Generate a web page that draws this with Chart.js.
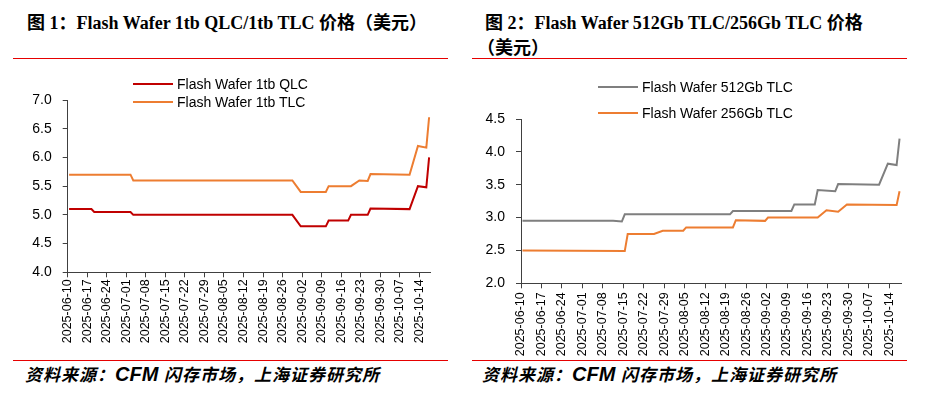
<!DOCTYPE html>
<html>
<head>
<meta charset="utf-8">
<script src="https://cdn.jsdelivr.net/npm/chart.js@4.4.1/dist/chart.umd.min.js"></script>
<style>
  html, body { margin: 0; padding: 0; background: #fff; }
  body { width: 928px; height: 397px; position: relative; overflow: hidden; font-family: "Liberation Sans", Arial, sans-serif; color: #000; }
  .title { position: absolute; font-family: "Liberation Serif", "Noto Sans CJK SC", serif; font-weight: bold; font-size: 18px; line-height: 22px; white-space: nowrap; }
  .rule { position: absolute; height: 1px; background: #e60000; }
  .src { position: absolute; font-family: "Liberation Sans", "Noto Sans CJK SC", sans-serif; font-weight: bold; font-style: italic; font-size: 17px; line-height: 20px; letter-spacing: 1px; white-space: nowrap; }
  .src b { font-size: 20px; letter-spacing: 0; }
  .lg { position: absolute; font-size: 14px; line-height: 16px; white-space: nowrap; display: flex; align-items: center; }
  .lg .sw { display: inline-block; width: 40px; height: 2px; margin-right: 4px; }
  canvas { position: absolute; }
</style>
</head>
<body>

<div class="title" style="left:27px; top:12px;">图 1：Flash Wafer 1tb QLC/1tb TLC 价格（美元）</div>
<div class="rule" style="left:13px; top:58px; width:435px;"></div>
<canvas id="c1" width="460" height="300" style="left:0; top:60px;"></canvas>
<div id="lg1"></div>
<div class="rule" style="left:13px; top:360px; width:435px;"></div>
<div class="src" style="left:25px; top:364px;">资料来源：<b>CFM</b> 闪存市场，上海证券研究所</div>

<div class="title" style="left:485px; top:12px;">图 2：Flash Wafer 512Gb TLC/256Gb TLC 价格</div>
<div class="title" style="left:477px; top:37px;">（美元）</div>
<div class="rule" style="left:472px; top:58px; width:435px;"></div>
<canvas id="c2" width="463" height="300" style="left:465px; top:60px;"></canvas>
<div id="lg2"></div>
<div class="rule" style="left:472px; top:360px; width:435px;"></div>
<div class="src" style="left:482px; top:364px;">资料来源：<b>CFM</b> 闪存市场，上海证券研究所</div>

<script>
  // weekly date labels on the x axis
  const START_DATE = '2025-06-10';
  const END_DATE = '2025-10-18';
  const X_TICK_LABELS = [
    '2025-06-10', '2025-06-17', '2025-06-24', '2025-07-01', '2025-07-08',
    '2025-07-15', '2025-07-22', '2025-07-29', '2025-08-05', '2025-08-12',
    '2025-08-19', '2025-08-26', '2025-09-02', '2025-09-09', '2025-09-16',
    '2025-09-23', '2025-09-30', '2025-10-07', '2025-10-14',
  ];

  // fig 1: prices where they change (USD)
  const QLC_NAME = 'Flash Wafer 1tb QLC';
  const QLC_DATES = ['2025-06-10', '2025-06-18', '2025-06-19', '2025-07-02', '2025-07-03', '2025-08-29', '2025-09-01',
    '2025-09-10', '2025-09-11', '2025-09-18', '2025-09-19', '2025-09-25', '2025-09-26', '2025-10-10',
    '2025-10-13', '2025-10-16', '2025-10-17'];
  const QLC_VALUES = [5.1, 5.1, 5.05, 5.05, 5.0, 5.0, 4.8, 4.8, 4.9, 4.9, 5.0, 5.0, 5.11, 5.1, 5.5, 5.48, 6.0];

  const TLC_NAME = 'Flash Wafer 1tb TLC';
  const TLC_DATES = ['2025-06-10', '2025-07-02', '2025-07-03', '2025-08-29', '2025-09-01', '2025-09-10', '2025-09-11',
    '2025-09-19', '2025-09-22', '2025-09-25', '2025-09-26', '2025-10-10', '2025-10-13', '2025-10-16', '2025-10-17'];
  const TLC_VALUES = [5.7, 5.7, 5.6, 5.6, 5.4, 5.4, 5.5, 5.5, 5.6, 5.59, 5.71, 5.7, 6.2, 6.17, 6.7];

  // fig 2
  const GB512_NAME = 'Flash Wafer 512Gb TLC';
  const GB512_DATES = ['2025-06-10', '2025-07-11', '2025-07-14', '2025-07-15', '2025-08-20', '2025-08-21', '2025-09-10',
    '2025-09-11', '2025-09-18', '2025-09-19', '2025-09-25', '2025-09-26', '2025-10-10', '2025-10-13',
    '2025-10-16', '2025-10-17'];
  const GB512_VALUES = [2.95, 2.95, 2.94, 3.05, 3.05, 3.1, 3.1, 3.2, 3.2, 3.42, 3.4, 3.51, 3.5, 3.82, 3.8, 4.2];

  const GB256_NAME = 'Flash Wafer 256Gb TLC';
  const GB256_DATES = ['2025-06-10', '2025-07-15', '2025-07-16', '2025-07-25', '2025-07-28', '2025-08-04', '2025-08-05',
    '2025-08-21', '2025-08-22', '2025-09-01', '2025-09-02', '2025-09-19', '2025-09-22', '2025-09-26',
    '2025-09-29', '2025-10-16', '2025-10-17'];
  const GB256_VALUES = [2.5, 2.49, 2.75, 2.75, 2.8, 2.8, 2.85, 2.85, 2.96, 2.95, 3.0, 3.0, 3.11, 3.09, 3.2, 3.19, 3.4];

  const RED = '#c00000';
  const ORANGE = '#ed7d31';
  const GRAY = '#7f7f7f';
  const AXIS_COLOR = '#404040';

  function dayIndex(s) {
    return Math.round((Date.parse(s) - Date.parse(START_DATE)) / 86400000);
  }

  // excel date axis puts each day in the middle of its slot
  function points(dates, values) {
    return dates.map(function (d, i) { return { x: dayIndex(d) + 0.5, y: values[i] }; });
  }

  function series(name, color, dates, values) {
    return {
      label: name,
      data: points(dates, values),
      borderColor: color,
      backgroundColor: color,
      borderWidth: 2,
      pointRadius: 0,
      tension: 0,
      fill: false,
    };
  }

  function buildLegend(el, items, left, tops) {
    el.innerHTML = items.map(function (it, i) {
      return '<div class="lg" style="left:' + left + 'px;top:' + (tops[i] - 8) + 'px;">' +
        '<span class="sw" style="background:' + it.color + '"></span>' + it.label + '</div>';
    }).join('');
  }

  function makeChart(canvas, datasets, yMin, yMax, box) {
    return new Chart(canvas, {
      type: 'line',
      data: { datasets: datasets },
      options: {
        responsive: false,
        animation: false,
        events: [],
        layout: { padding: { top: box.top, right: box.right, left: 0, bottom: 0 } },
        plugins: { legend: { display: false }, tooltip: { enabled: false } },
        scales: {
          x: {
            type: 'linear',
            min: 0,
            max: dayIndex(END_DATE),
            afterFit: function (s) { s.height = box.xh; },
            afterBuildTicks: function (s) {
              s.ticks = X_TICK_LABELS.map(function (l) { return { value: dayIndex(l) }; });
            },
            grid: { drawOnChartArea: false, tickLength: 5, color: AXIS_COLOR },
            border: { color: AXIS_COLOR, width: 1 },
            ticks: {
              autoSkip: false,
              minRotation: 90,
              maxRotation: 90,
              padding: box.xpad,
              color: '#000',
              font: { family: "'Liberation Sans', Arial, sans-serif", size: 12.5 },
              callback: function (v, i) { return X_TICK_LABELS[i]; },
            },
          },
          y: {
            min: yMin,
            max: yMax,
            afterFit: function (s) { s.width = box.yw; },
            grid: { drawOnChartArea: false, tickLength: 5, color: AXIS_COLOR },
            border: { color: AXIS_COLOR, width: 1 },
            ticks: {
              stepSize: 0.5,
              padding: 11,
              color: '#000',
              font: { family: "'Liberation Sans', Arial, sans-serif", size: 14 },
              callback: function (v) { return Number(v).toFixed(1); },
            },
          },
        },
      },
    });
  }

  makeChart(document.getElementById('c1'), [
    series(QLC_NAME, RED, QLC_DATES, QLC_VALUES),
    series(TLC_NAME, ORANGE, TLC_DATES, TLC_VALUES),
  ], 4.0, 7.0, { top: 40, right: 29.5, yw: 67.7, xh: 87.7, xpad: 2 });

  makeChart(document.getElementById('c2'), [
    series(GB512_NAME, GRAY, GB512_DATES, GB512_VALUES),
    series(GB256_NAME, ORANGE, GB256_DATES, GB256_VALUES),
  ], 2.0, 4.5, { top: 59, right: 27, yw: 56, xh: 76.7, xpad: 4 });

  buildLegend(document.getElementById('lg1'),
    [{ label: QLC_NAME, color: RED }, { label: TLC_NAME, color: ORANGE }], 133, [84, 102]);
  buildLegend(document.getElementById('lg2'),
    [{ label: GB512_NAME, color: GRAY }, { label: GB256_NAME, color: ORANGE }], 598, [87, 113]);
</script>
</body>
</html>
